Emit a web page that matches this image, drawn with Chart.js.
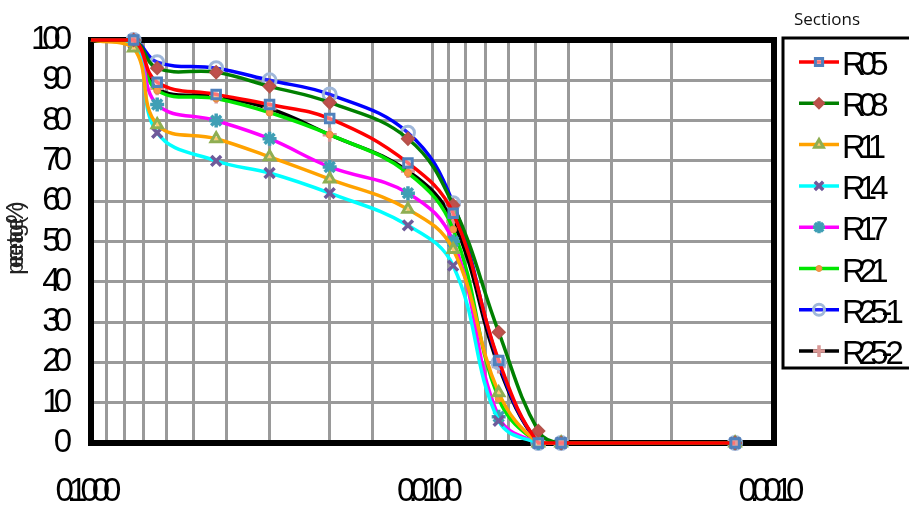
<!DOCTYPE html>
<html><head><meta charset="utf-8">
<script src="https://cdn.jsdelivr.net/npm/chart.js@4/dist/chart.umd.min.js"></script>
<style>html,body{margin:0;padding:0;background:#fff;}#wrap{width:909px;height:507px;}</style>
</head><body><div id="wrap"><canvas id="c" width="909" height="507"></canvas></div>
<script>
// ---- data ----
const sizes = [0.1, 0.075, 0.064, 0.043, 0.030, 0.020, 0.0118, 0.0087, 0.0064, 0.0049, 0.0042, 0.0013];
const seriesNames = ['R05','R08','R11','R14','R17','R21','R25-1','R25-2'];
const R05  = [100, 100,   89.5, 86.5, 84.0, 80.5, 69.5, 57.0, 20.5, 0, 0, 0];
const R08  = [100, 100,   93.0, 92.0, 88.5, 84.5, 75.5, 59.0, 27.5, 3, 0, 0];
const R11  = [100, 98,    79.0, 75.5, 71.0, 65.5, 58.0, 48.0, 12.5, 0, 0, 0];
const R14  = [100, 99,    77.0, 70.0, 67.0, 62.0, 54.0, 44.0,  5.5, 0, 0, 0];
const R17  = [100, 99.5,  84.0, 80.0, 75.5, 68.5, 62.0, 50.0,  6.5, 0, 0, 0];
const R21  = [100, 99,    87.5, 85.5, 82.0, 76.5, 67.0, 53.0, 11.0, 0, 0, 0];
const R25_1= [100, 100,   94.5, 93.0, 90.0, 86.5, 77.0, 59.5, 20.0, 0, 0, 0];
const R25_2= [100, 100,   88.0, 86.0, 83.0, 76.5, 67.5, 55.0, 19.0, 0, 0, 0];
const seriesValues = [R05, R08, R11, R14, R17, R21, R25_1, R25_2];
const xTickLabels = ['0.1000', '0.0100', '0.0010'];
const yTickStep = 10;
const legendTitle = 'Sections';
const yTitle = 'percentage(%)';

// ---- styles ----
const FONT = '"Liberation Sans", Arial, sans-serif';
const SPACING = '-7px';
const styles = [
  {line:'#ff0000', ps:'rect',     pb:'#4f81bd', pf:'rgba(255,255,255,0.45)', r:6, bw:3},
  {line:'#008000', ps:'rectRot',  pb:'#b5524a', pf:'#c0504d', r:6, bw:2},
  {line:'#ffa200', ps:'triangle', pb:'#8fae52', pf:'rgba(255,255,255,0.45)', r:6, bw:3},
  {line:'#00ffff', ps:'crossRot', pb:'#6f5a9a', pf:'#6f5a9a', r:7, bw:3.5},
  {line:'#ff00ff', ps:'star',     pb:'#3f9fb5', pf:'#3f9fb5', r:7, bw:3.5},
  {line:'#00e600', ps:'circle',   pb:'#e98a3c', pf:'#f79646', r:3.5, bw:1},
  {line:'#0000ff', ps:'circle',   pb:'#9fb7da', pf:'rgba(255,255,255,0.15)', r:6.5, bw:3},
  {line:'#000000', ps:'cross',    pb:'#d99694', pf:'#d99694', r:7, bw:3.5}
];

const datasets = seriesNames.map((name, i) => ({
  label: name,
  data: sizes.map((s, j) => ({x: s, y: seriesValues[i][j]})),
  borderColor: styles[i].line,
  backgroundColor: styles[i].line,
  borderWidth: 3.5,
  tension: 0.4,
  pointStyle: styles[i].ps,
  pointBorderColor: styles[i].pb,
  pointBackgroundColor: styles[i].pf,
  pointBorderWidth: styles[i].bw,
  pointRadius: ctx => ctx.dataIndex === 0 ? 0 : styles[i].r,
  clip: 9
}));

const spacingPlugin = {
  id: 'spacing',
  beforeLayout(chart){ chart.ctx.letterSpacing = SPACING; },
  beforeDraw(chart){ chart.ctx.letterSpacing = SPACING; }
};

const framePlugin = {
  id: 'frame',
  beforeDatasetsDraw(chart){
    const {ctx, chartArea:a} = chart;
    ctx.save();
    ctx.lineWidth = 6; ctx.strokeStyle = '#000';
    ctx.strokeRect(a.left, a.top, a.right - a.left, a.bottom - a.top);
    ctx.restore();
  }
};

const legendPlugin = {
  id: 'boxLegend',
  afterDraw(chart){
    const ctx = chart.ctx;
    ctx.save();
    ctx.letterSpacing = '0px';
    ctx.font = '17px "Open Sans", "Noto Sans", sans-serif';
    ctx.fillStyle = '#111';
    ctx.textBaseline = 'middle'; ctx.textAlign = 'left';
    ctx.fillText(legendTitle, 794, 20);
    ctx.lineWidth = 3; ctx.strokeStyle = '#000';
    ctx.strokeRect(783, 38, 140, 330);
    chart.data.datasets.forEach((ds, i) => {
      const y = 62 + i * 41.3;
      ctx.lineWidth = 3.5; ctx.strokeStyle = ds.borderColor;
      ctx.beginPath(); ctx.moveTo(799, y); ctx.lineTo(839, y); ctx.stroke();
      ctx.fillStyle = ds.pointBackgroundColor; ctx.strokeStyle = ds.pointBorderColor;
      ctx.lineWidth = ds.pointBorderWidth;
      Chart.helpers.drawPoint(ctx, {pointStyle: ds.pointStyle, radius: styles[i].r * 0.85, rotation: 0, borderWidth: ds.pointBorderWidth}, 819, y);
      ctx.letterSpacing = SPACING;
      ctx.font = '33px ' + FONT; ctx.fillStyle = '#000';
      ctx.fillText(ds.label, 842, y + 4);
    });
    ctx.restore();
  }
};

function isDecade(v){ const l = Math.log10(v); return Math.abs(l - Math.round(l)) < 1e-6; }

new Chart(document.getElementById('c'), {
  type: 'line',
  data: {datasets},
  plugins: [spacingPlugin, framePlugin, legendPlugin],
  options: {
    responsive: false, animation: false, devicePixelRatio: 1,
    layout: {padding: {top: 40, right: 135, left: 0, bottom: 0}},
    plugins: {legend: {display: false}, tooltip: {enabled: false}},
    scales: {
      x: {
        type: 'logarithmic', reverse: true, min: 0.001, max: 0.1,
        grid: {color: '#9a9a9a', lineWidth: 3, drawTicks: false},
        border: {display: false},
        ticks: {
          autoSkip: false, maxRotation: 0, minRotation: 0, padding: 29, labelOffset: -6,
          color: '#000', font: {family: FONT, size: 33},
          callback: function(v){
            if (!isDecade(v)) return '';
            const k = -Math.round(Math.log10(v)) - 1;
            return xTickLabels[k];
          }
        },
        afterFit(s){ s.height = 64; }
      },
      y: {
        min: 0, max: 100,
        grid: {color: '#9a9a9a', lineWidth: 3, drawTicks: false},
        border: {display: false},
        ticks: {stepSize: yTickStep, autoSkip: false, padding: 26, color: '#000', font: {family: FONT, size: 33, lineHeight: 0.8}},
        title: {display: true, text: yTitle, color: '#222', font: {family: FONT, size: 24}, padding: {top: 2, bottom: 0}},
        afterFit(s){ s.width = 91; }
      }
    }
  }
});
</script>
</body></html>
